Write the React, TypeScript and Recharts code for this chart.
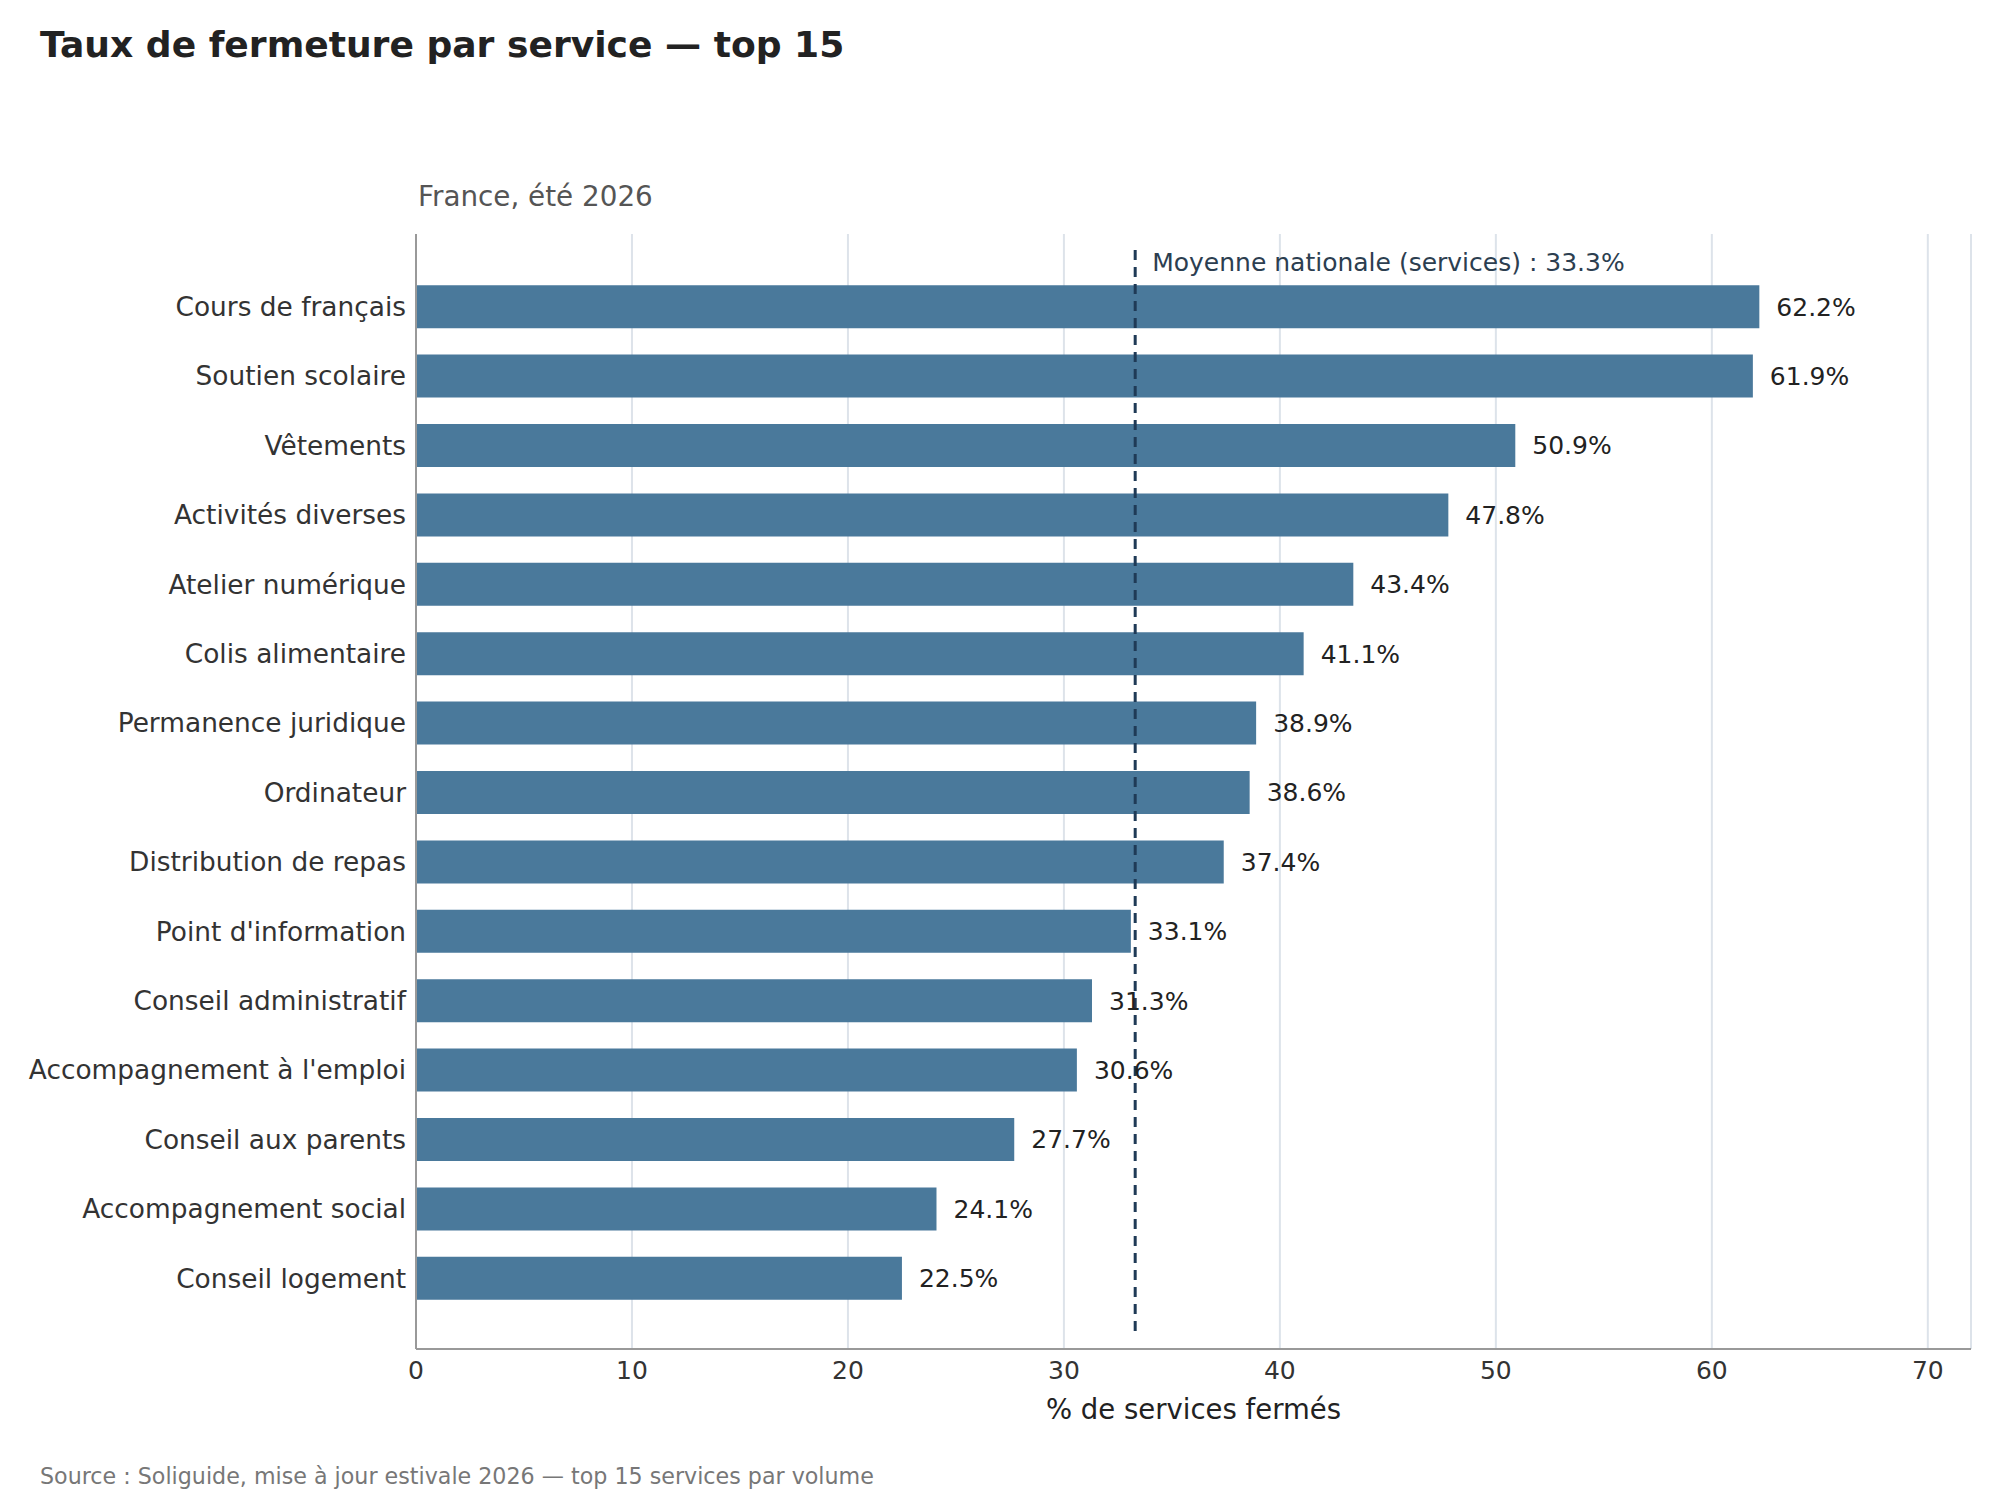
import React from 'react';
import {
  BarChart,
  Bar,
  XAxis,
  YAxis,
  CartesianGrid,
  ReferenceLine,
  LabelList,
} from 'recharts';

const services = [
  'Cours de français',
  'Soutien scolaire',
  'Vêtements',
  'Activités diverses',
  'Atelier numérique',
  'Colis alimentaire',
  'Permanence juridique',
  'Ordinateur',
  'Distribution de repas',
  "Point d'information",
  'Conseil administratif',
  "Accompagnement à l'emploi",
  'Conseil aux parents',
  'Accompagnement social',
  'Conseil logement',
];

const closureRates = [62.2, 61.9, 50.9, 47.8, 43.4, 41.1, 38.9, 38.6, 37.4, 33.1, 31.3, 30.6, 27.7, 24.1, 22.5];

const nationalMean = 33.3;
const xTicks = [0, 10, 20, 30, 40, 50, 60, 70];

const data = services.map((service, i) => ({ service, rate: closureRates[i] }));

const FONT = '"DejaVu Sans", sans-serif';
const BAR_COLOR = '#4a799b';
const MEAN_COLOR = '#1f3a56';

function MeanLine(props: any) {
  const { x1, y1, y2 } = props;
  const top = Math.min(y1, y2);
  const bottom = Math.max(y1, y2);
  return (
    <g>
      <line
        x1={x1}
        x2={x1}
        y1={top + 16}
        y2={bottom - 11}
        stroke={MEAN_COLOR}
        strokeWidth={3}
        strokeDasharray="10 7"
      />
      <text x={x1 + 17} y={top + 37} fontSize={25} fill="#2c3e50" fontFamily={FONT}>
        {`Moyenne nationale (services) : ${nationalMean}%`}
      </text>
    </g>
  );
}

export default function App() {
  return (
    <div style={{ position: 'absolute', left: 0, top: 0, width: 2000, height: 1500, background: '#fff', fontFamily: FONT }}>
      <BarChart
        width={2000}
        height={1500}
        data={data}
        layout="vertical"
        margin={{ top: 234, right: 29, bottom: 71, left: 0 }}
        barCategoryGap="19%"
      >
        <CartesianGrid horizontal={false} stroke="#dde3ea" strokeWidth={2} />
        <XAxis
          type="number"
          domain={[0, 72]}
          ticks={xTicks}
          allowDataOverflow
          height={80}
          tickLine={false}
          tickSize={0}
          tickMargin={12}
          axisLine={{ stroke: '#999', strokeWidth: 2 }}
          tick={{ fontSize: 25, fill: '#333', fontFamily: FONT }}
          label={{
            value: '% de services fermés',
            position: 'insideBottom',
            offset: 10,
            fontSize: 27.5,
            fill: '#222',
            fontFamily: FONT,
          }}
        />
        <YAxis
          type="category"
          dataKey="service"
          width={416}
          tickLine={false}
          tickSize={0}
          tickMargin={10}
          interval={0}
          padding={{ top: 38, bottom: 36 }}
          axisLine={{ stroke: '#999', strokeWidth: 2 }}
          tick={{ fontSize: 26.4, fill: '#333', fontFamily: FONT }}
        />
        <Bar dataKey="rate" fill={BAR_COLOR} isAnimationActive={false}>
          <LabelList
            dataKey="rate"
            position="right"
            offset={17}
            fontSize={25}
            fill="#222"
            fontFamily={FONT}
            formatter={(v: any) => `${Number(v).toFixed(1)}%`}
          />
        </Bar>
        <ReferenceLine x={nationalMean} shape={MeanLine} ifOverflow="extendDomain" />
      </BarChart>
      <svg
        width={2000}
        height={1500}
        style={{ position: 'absolute', left: 0, top: 0, pointerEvents: 'none' }}
      >
        <text x={40} y={57} fontSize={36.1} fontWeight="bold" fill="#222" fontFamily={FONT}>
          Taux de fermeture par service — top 15
        </text>
        <text x={418} y={206} fontSize={27.8} fill="#555" fontFamily={FONT}>
          France, été 2026
        </text>
        <text x={40} y={1484} fontSize={22.2} fill="#777" fontFamily={FONT}>
          Source : Soliguide, mise à jour estivale 2026 — top 15 services par volume
        </text>
      </svg>
    </div>
  );
}
